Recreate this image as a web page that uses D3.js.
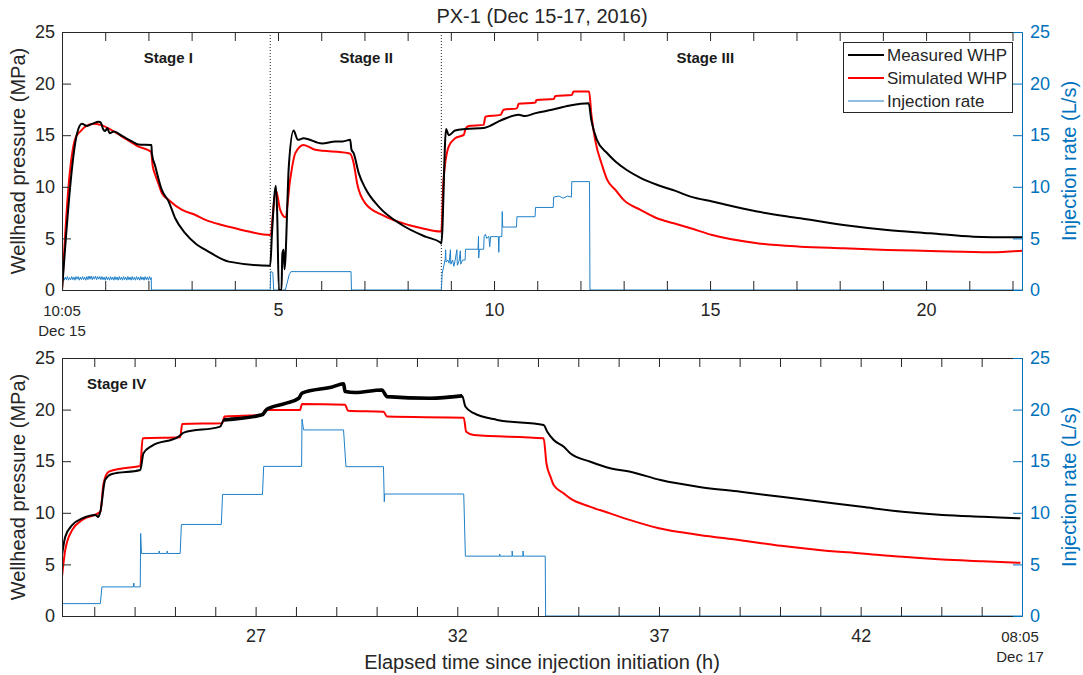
<!DOCTYPE html>
<html>
<head>
<meta charset="utf-8" />
<title>PX-1</title>
<script src="https://cdn.jsdelivr.net/npm/d3@7"></script>
<style>
  body { margin: 0; background: #fff; }
  svg { font-family: "Liberation Sans", Arial, sans-serif; }
</style>
</head>
<body>
<svg id="chart" width="1083" height="675"></svg>
<script>
// values: [elapsed hours, value]
var measuredTop = [[0,0],[0.35,15.2],[0.46,16.1],[0.58,15.9],[0.7,16.1],[0.85,16.3],[0.9,16.2],[0.95,15.6],[1.0,15.4],[1.05,15.7],[1.1,15.2],[1.2,15.35],[1.4,14.9],[1.62,14.4],[1.77,14.1],[2.07,14.05],[2.08,13.25],[2.16,11.96],[2.31,9.7],[2.47,8.57],[2.62,6.95],[2.85,5.5],[3.09,4.5],[3.39,3.72],[3.86,2.75],[4.82,2.36],[4.86,5.5],[4.95,10.1],[4.98,7.5],[5.02,0],[5.08,0],[5.1,3.5],[5.13,3.9],[5.15,2],[5.25,12],[5.36,15.45],[5.46,14.55],[5.59,14.7],[6.02,14.2],[6.33,14.4],[6.5,14.4],[6.67,14.55],[6.7,13.6],[6.75,13.26],[6.87,11.3],[7.02,9.86],[7.33,8.08],[7.87,6.3],[8.41,5.17],[8.76,4.6],[8.78,4.5],[8.89,15.6],[8.95,15.0],[9.1,15.45],[9.34,15.6],[9.76,15.7],[10.19,16.5],[10.57,16.97],[10.72,16.85],[10.96,17.14],[11.34,17.46],[11.73,17.85],[12.19,18.1],[12.25,16.5],[12.38,14.55],[12.62,13.25],[12.81,12.45],[13.08,11.6],[13.4,10.85],[13.77,10.2],[14.2,9.6],[14.55,9.05],[15.05,8.57],[16.09,7.6],[17.09,6.95],[18.09,6.3],[19.1,5.82],[20.1,5.5],[21.1,5.17],[22.22,5.1]];
var simulatedTop = [[0,0],[0.15,10],[0.31,14.7],[0.42,15.35],[0.73,16.1],[0.89,16.0],[1.39,14.87],[1.77,13.9],[2.06,13.4],[2.1,12.0],[2.16,11.15],[2.24,10.2],[2.31,9.4],[2.47,8.73],[2.78,7.76],[3.09,7.27],[3.32,6.8],[3.7,6.3],[4.01,5.98],[4.32,5.66],[4.82,5.33],[4.95,9.7],[5.05,7.76],[5.17,7.05],[5.28,10.67],[5.4,13.26],[5.59,14.06],[5.86,13.58],[6.63,13.26],[6.67,13.2],[6.75,12.3],[6.83,10.35],[7.02,8.4],[7.41,7.27],[8.02,6.3],[8.33,5.98],[8.76,5.66],[8.78,5.66],[8.83,10.67],[8.95,13.9],[9.1,14.7],[9.3,15.03],[9.34,15.6],[9.41,15.9],[9.76,16.0],[9.8,16.8],[10.15,16.97],[10.22,17.46],[10.53,17.6],[10.57,18.04],[10.96,18.17],[10.98,18.4],[11.38,18.5],[11.42,18.8],[11.8,18.9],[11.84,19.23],[12.2,19.23],[12.25,17.1],[12.34,14.55],[12.5,12.1],[12.62,10.67],[12.81,9.7],[13.0,8.73],[13.39,7.76],[13.77,6.95],[14.16,6.47],[14.55,5.98],[15.05,5.33],[16.09,4.53],[17.09,4.2],[18.09,4.04],[19.1,3.88],[20.1,3.78],[21.5,3.65],[22.22,3.8]];
var injectionTop = [[0,0],[0.01,1.1],[0.025,1.3],[0.05,0.95],[0.075,1.25],[0.1,1.0],[0.125,1.3],[0.15,0.95],[0.175,1.2],[0.2,1.0],[0.225,1.3],[0.25,1.0],[0.275,1.25],[0.3,0.95],[0.325,1.3],[0.35,1.05],[0.375,1.3],[0.4,0.95],[0.425,1.25],[0.45,1.0],[0.475,1.3],[0.5,1.0],[0.525,1.25],[0.55,0.95],[0.575,1.3],[0.6,1.0],[0.625,1.35],[0.65,1.05],[0.675,1.35],[0.7,1.0],[0.725,1.3],[0.75,1.05],[0.775,1.35],[0.8,1.0],[0.825,1.3],[0.85,1.05],[0.875,1.3],[0.9,1.0],[0.925,1.3],[0.95,1.0],[0.975,1.25],[1.0,0.95],[1.025,1.3],[1.05,1.0],[1.075,1.25],[1.1,0.95],[1.125,1.3],[1.15,1.0],[1.175,1.25],[1.2,0.95],[1.225,1.3],[1.25,1.0],[1.275,1.25],[1.3,0.95],[1.325,1.3],[1.35,1.0],[1.375,1.25],[1.4,0.95],[1.425,1.3],[1.45,1.0],[1.475,1.25],[1.5,0.95],[1.525,1.3],[1.55,1.0],[1.575,1.25],[1.6,0.95],[1.625,1.3],[1.65,1.0],[1.675,1.25],[1.7,0.95],[1.725,1.3],[1.75,1.0],[1.775,1.25],[1.8,0.95],[1.825,1.3],[1.85,1.0],[1.875,1.25],[1.9,0.95],[1.925,1.3],[1.95,1.0],[1.975,1.25],[2.0,0.95],[2.025,1.3],[2.05,1.0],[2.065,1.2],[2.07,0],[4.82,0],[4.83,1.8],[4.88,1.7],[4.9,0],[5.17,0],[5.26,1.5],[5.3,1.78],[6.69,1.78],[6.7,0],[8.78,0],[8.8,1.6],[8.84,2.4],[8.87,3.0],[8.88,3.9],[8.89,2.7],[8.93,2.9],[8.96,2.6],[8.99,3.9],[9.0,2.5],[9.04,2.9],[9.07,2.3],[9.1,2.9],[9.14,3.9],[9.15,2.4],[9.19,2.8],[9.22,3.8],[9.23,2.5],[9.27,2.9],[9.33,2.9],[9.34,3.95],[9.63,3.95],[9.64,5.2],[9.645,3.1],[9.66,3.95],[9.76,3.95],[9.77,5.17],[9.8,5.4],[9.83,5.0],[9.88,5.2],[9.9,4.2],[9.92,5.17],[10.1,5.17],[10.11,3.65],[10.12,5.17],[10.18,5.17],[10.19,7.6],[10.2,6.1],[10.52,6.1],[10.53,7.1],[10.95,7.1],[10.96,8.0],[11.37,8.0],[11.38,9.0],[11.5,9.1],[11.6,8.9],[11.7,9.1],[11.79,9.0],[11.8,10.5],[12.21,10.5],[12.22,0],[22.22,0]];

var measuredBottom = [[22.2,5.9],[22.28,7.67],[22.45,8.8],[22.7,9.45],[23.03,9.78],[23.1,9.6],[23.15,10.1],[23.27,13.2],[23.44,13.76],[24.14,14.15],[24.22,15.77],[24.43,16.48],[25.09,17.38],[25.22,17.77],[26.12,18.35],[26.21,19.0],[27.16,19.49],[27.28,20.04],[27.74,20.6],[28.07,21.1],[28.15,21.6],[28.9,22.2],[29.18,22.5],[29.22,21.75],[29.47,21.65],[30.13,21.9],[30.26,21.26],[31.33,21.1],[32.12,21.33],[32.2,20.3],[32.41,19.65],[32.99,19.0],[34.14,18.5],[34.23,17.86],[34.39,17.06],[34.64,16.4],[34.8,15.77],[35.3,14.95],[35.79,14.31],[36.29,13.98],[37.04,13.17],[38.0,12.5],[39.02,12.04],[40.03,11.55],[41.02,11.07],[42.03,10.58],[43.04,10.1],[44.03,9.78],[45.03,9.61],[45.96,9.46]];
var simulatedBottom = [[22.2,3.8],[22.28,6.38],[22.45,8.32],[22.7,9.3],[23.15,10.1],[23.23,12.85],[23.36,13.98],[23.69,14.3],[24.14,14.53],[24.2,17.22],[25.13,17.32],[25.18,18.61],[26.17,18.68],[26.23,19.32],[27.16,19.49],[27.24,19.97],[28.1,19.95],[28.15,20.55],[29.22,20.46],[29.29,19.9],[30.17,19.8],[30.26,19.32],[32.16,19.22],[32.22,17.86],[32.41,17.54],[34.14,17.22],[34.21,14.8],[34.31,13.5],[34.39,12.69],[34.64,11.88],[34.8,11.4],[35.3,10.58],[35.79,9.94],[36.29,9.29],[37.0,8.5],[38.0,7.85],[39.02,7.35],[40.03,6.8],[41.02,6.38],[42.03,6.06],[43.04,5.73],[44.03,5.48],[45.03,5.31],[45.96,5.15]];
var injectionBottom = [[22.2,1.2],[23.15,1.2],[23.19,2.82],[23.97,2.82],[23.98,3.2],[23.99,2.82],[24.14,2.82],[24.15,8.0],[24.17,6.06],[24.6,6.06],[24.61,6.3],[24.62,6.06],[24.8,6.06],[24.81,6.3],[24.82,6.06],[25.13,6.06],[25.16,8.87],[26.15,8.87],[26.18,11.78],[27.17,11.78],[27.2,14.5],[28.14,14.5],[28.15,19.07],[28.19,18.03],[29.18,18.03],[29.24,14.47],[30.17,14.47],[30.19,11.07],[30.2,11.82],[32.16,11.82],[32.2,5.8],[33.05,5.8],[33.05,6.0],[33.06,5.8],[33.36,5.8],[33.36,6.3],[33.37,5.8],[33.63,5.8],[33.63,6.3],[33.64,5.8],[34.18,5.8],[34.19,0],[46,0]];

var topTicks = d3.range(0, 23);
var topLabelled = [5, 10, 15, 20];
var bottomTicks = d3.range(23, 47);
var bottomLabelled = [27, 32, 37, 42];
var startStamp = { t: 0, lines: ['10:05', 'Dec 15'] };
var endStamp = { t: 46, lines: ['08:05', 'Dec 17'] };
var stageDividers = [4.82, 8.78];
var stageNames = ['Stage I', 'Stage II', 'Stage III'];
var stageCentres = [2.46, 7.04, 14.89];
var noisyStretch = [26.15, 32.15]; // measured trace is visibly thick here
var legendNames = ['Measured WHP', 'Simulated WHP', 'Injection rate'];

var BLACK = '#000000', RED = '#ff0000', BLUE = '#0072BD', BLUE_LINE = '#1f80c8', AX = '#262626';
var L = 62, R = 1022;
var svg = d3.select('#chart');

function styleAxis(sel, color, size) {
  sel.select('.domain').attr('stroke', color);
  sel.selectAll('.tick line').attr('stroke', color);
  sel.selectAll('.tick text').attr('fill', color).style('font-size', size + 'px');
}

function drawPanel(p) {
  var x = d3.scaleLinear().domain(p.domain).range([L, R]);
  var yL = d3.scaleLinear().domain([0, 25]).range([p.bottom, p.top]);
  var yR = d3.scaleLinear().domain([0, 25]).range([p.bottom, p.top]);

  svg.append('clipPath').attr('id', 'clip' + p.id)
    .append('rect').attr('x', L).attr('y', p.top).attr('width', R - L).attr('height', p.bottom - p.top);

  var plot = svg.append('g').attr('clip-path', 'url(#clip' + p.id + ')');

  (p.dividers || []).forEach(function (t) {
    plot.append('line')
      .attr('x1', x(t)).attr('x2', x(t)).attr('y1', p.top).attr('y2', p.bottom)
      .attr('stroke', AX).attr('stroke-width', 1).attr('stroke-dasharray', '1,2');
  });

  var step = function (ys) { return d3.line().x(function (d) { return x(d[0]); }).y(function (d) { return ys(d[1]); }); };
  var smooth = function (ys) { return step(ys).curve(d3.curveMonotoneX); };

  plot.append('path').attr('d', step(yR)(p.injection)).attr('fill', 'none').attr('stroke', BLUE_LINE).attr('stroke-width', 1);
  plot.append('path').attr('d', smooth(yL)(p.simulated)).attr('fill', 'none').attr('stroke', RED).attr('stroke-width', 2).attr('stroke-linejoin', 'round');
  plot.append('path').attr('d', smooth(yL)(p.measured)).attr('fill', 'none').attr('stroke', BLACK).attr('stroke-width', 2).attr('stroke-linejoin', 'round');
  if (p.noisy) {
    var part = p.measured.filter(function (d) { return d[0] >= p.noisy[0] && d[0] <= p.noisy[1]; });
    plot.append('path').attr('d', smooth(yL)(part)).attr('fill', 'none').attr('stroke', BLACK).attr('stroke-width', 3.6).attr('stroke-linejoin', 'round');
  }

  // axes, ticks pointing inward
  var gx = svg.append('g').attr('transform', 'translate(0,' + p.bottom + ')')
    .call(d3.axisBottom(x).tickValues(p.ticks).tickSize(-9).tickSizeOuter(0).tickPadding(13)
      .tickFormat(function (d) { return p.labelled.indexOf(d) >= 0 ? d : ''; }));
  styleAxis(gx, AX, 18);

  var gt = svg.append('g').attr('transform', 'translate(0,' + p.top + ')')
    .call(d3.axisTop(x).tickValues(p.ticks).tickSize(-9).tickSizeOuter(0).tickFormat(''));
  styleAxis(gt, AX, 18);

  var gl = svg.append('g').attr('transform', 'translate(' + L + ',0)')
    .call(d3.axisLeft(yL).tickValues([0, 5, 10, 15, 20, 25]).tickSize(-9).tickSizeOuter(0).tickPadding(7));
  styleAxis(gl, AX, 18);

  var gr = svg.append('g').attr('transform', 'translate(' + R + ',0)')
    .call(d3.axisRight(yR).tickValues([0, 5, 10, 15, 20, 25]).tickSize(-9).tickSizeOuter(0).tickPadding(8));
  styleAxis(gr, BLUE, 18);

  // date stamp under one end of the time axis
  var sx = x(p.stamp.t) - (p.stamp.t === 46 ? 2 : 0);
  var st = svg.append('text').attr('text-anchor', 'middle').attr('fill', AX).style('font-size', '15px');
  st.append('tspan').attr('x', sx).attr('y', p.bottom + 25.5).text(p.stamp.lines[0]);
  st.append('tspan').attr('x', sx).attr('y', p.bottom + 45.5).text(p.stamp.lines[1]);

  // axis titles
  svg.append('text').attr('transform', 'translate(24.5,' + (p.top + p.bottom) / 2 + ') rotate(-90)')
    .attr('text-anchor', 'middle').attr('fill', AX).style('font-size', '20px').text('Wellhead pressure (MPa)');
  svg.append('text').attr('transform', 'translate(1076,' + (p.top + p.bottom) / 2 + ') rotate(-90)')
    .attr('text-anchor', 'middle').attr('fill', BLUE).style('font-size', '20px').text('Injection rate (L/s)');

  return { x: x, y: yL };
}

var top1 = drawPanel({
  id: 'a', top: 32, bottom: 290, domain: [0, 22.22],
  measured: measuredTop, simulated: simulatedTop, injection: injectionTop,
  ticks: topTicks, labelled: topLabelled, stamp: startStamp, dividers: stageDividers
});

var bot1 = drawPanel({
  id: 'b', top: 358, bottom: 616, domain: [22.2, 46],
  measured: measuredBottom, simulated: simulatedBottom, injection: injectionBottom,
  ticks: bottomTicks, labelled: bottomLabelled, stamp: endStamp, noisy: noisyStretch
});

// stage labels
stageNames.forEach(function (s, i) {
  svg.append('text').attr('x', top1.x(stageCentres[i])).attr('y', top1.y(22))
    .attr('text-anchor', 'middle').attr('font-weight', 'bold').attr('fill', '#1a1a1a')
    .style('font-size', '15px').text(s);
});
svg.append('text').attr('x', bot1.x(22.82)).attr('y', bot1.y(22))
  .attr('font-weight', 'bold').attr('fill', '#1a1a1a').style('font-size', '15px').text('Stage IV');

// title and x label
svg.append('text').attr('x', (L + R) / 2).attr('y', 23).attr('text-anchor', 'middle')
  .attr('fill', AX).style('font-size', '20px').text('PX-1 (Dec 15-17, 2016)');
svg.append('text').attr('x', (L + R) / 2).attr('y', 669).attr('text-anchor', 'middle')
  .attr('fill', AX).style('font-size', '20px').text('Elapsed time since injection initiation (h)');

// legend
var lg = svg.append('g');
lg.append('rect').attr('x', 843.5).attr('y', 42.5).attr('width', 169).attr('height', 70)
  .attr('fill', '#fff').attr('stroke', AX).attr('stroke-width', 1);
var legendColors = [BLACK, RED, BLUE_LINE], legendWidths = [2, 2, 1];
legendNames.forEach(function (n, i) {
  var yy = 55 + i * 23;
  lg.append('line').attr('x1', 848).attr('x2', 884).attr('y1', yy).attr('y2', yy)
    .attr('stroke', legendColors[i]).attr('stroke-width', legendWidths[i]);
  lg.append('text').attr('x', 887).attr('y', yy).attr('dy', '0.35em').attr('fill', AX)
    .style('font-size', '17px').text(n);
});
</script>
</body>
</html>
